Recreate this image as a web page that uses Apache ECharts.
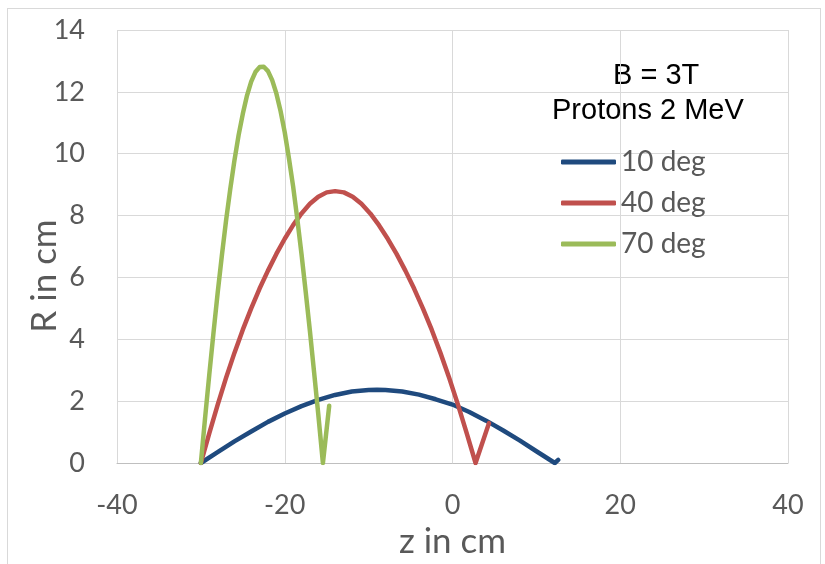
<!DOCTYPE html>
<html>
<head>
<meta charset="utf-8">
<script src="https://cdn.jsdelivr.net/npm/echarts@6/dist/echarts.min.js"></script>
<style>
html,body{margin:0;padding:0;background:#fff;}
#frame{position:absolute;left:7px;top:8px;width:814px;height:600px;border:1px solid #d9d9d9;box-sizing:border-box;}
#chart{position:absolute;left:0;top:0;width:825px;height:564px;}
</style>
</head>
<body>
<div id="frame"></div>
<div id="chart"></div>
<script>
// tick labels / axis ranges
const xTicks = [-40, -20, 0, 20, 40];
const yTicks = [0, 2, 4, 6, 8, 10, 12, 14];
const seriesNames = ['10 deg', '40 deg', '70 deg'];
const titleLines = ['B = 3T', 'Protons 2 MeV'];
const xName = 'z in cm';
const yName = 'R in cm';

// 10 deg
const z10 = [-30, -28, -26, -24, -22, -20, -18, -16, -14, -12, -10, -9, -8, -6, -4, -2, 0, 2, 4, 6, 8, 10, 12.2, 12.6];
const r10 = [0, 0.35, 0.70, 1.02, 1.33, 1.60, 1.84, 2.04, 2.20, 2.31, 2.36, 2.37, 2.36, 2.31, 2.21, 2.06, 1.89, 1.65, 1.37, 1.06, 0.73, 0.38, 0, 0.1];

// 40 deg
const z40 = [-30, -29, -28, -27, -26, -25, -24, -23, -22, -21, -20, -19, -18, -17, -16, -15, -14, -12.95, -11.9, -10.86, -9.81, -8.77, -7.72, -6.67, -5.62, -4.58, -3.53, -2.48, -1.44, -0.39, 0.66, 1.70, 2.75, 4.35];
const r40 = [0, 0.96, 1.88, 2.75, 3.56, 4.31, 5.00, 5.64, 6.22, 6.76, 7.25, 7.69, 8.07, 8.38, 8.61, 8.75, 8.79, 8.75, 8.61, 8.38, 8.07, 7.69, 7.25, 6.76, 6.22, 5.64, 5.00, 4.31, 3.56, 2.75, 1.88, 0.96, 0, 1.29];

// 70 deg
const z70 = [-30, -29.5, -29, -28.5, -28, -27.5, -27, -26.5, -26, -25.5, -25, -24.5, -24, -23.5, -23, -22.5, -22, -21.5, -21, -20.5, -20, -19.5, -19, -18.5, -18, -17.5, -17, -16.5, -16, -15.45, -14.7];
const r70 = [0, 1.45, 2.85, 4.20, 5.50, 6.70, 7.83, 8.85, 9.78, 10.60, 11.29, 11.88, 12.33, 12.64, 12.80, 12.81, 12.67, 12.38, 11.95, 11.38, 10.69, 9.85, 8.94, 7.88, 6.75, 5.53, 4.27, 2.93, 1.57, 0, 1.85];

const colors = ['#1F4A7E', '#C0504D', '#9BBB59'];
const pair = (zs, rs) => zs.map((z, i) => [z, rs[i]]);
const seriesData = [pair(z10, r10), pair(z40, r40), pair(z70, r70)];

const FONT = 'Lato, "Open Sans", sans-serif';
const chart = echarts.init(document.getElementById('chart'), null, {renderer: 'canvas'});
chart.setOption({
  animation: false,
  backgroundColor: 'transparent',
  color: colors,
  grid: {left: 117, right: 37, top: 30, bottom: 100, containLabel: false},
  xAxis: {
    type: 'value', min: xTicks[0], max: xTicks[xTicks.length - 1], interval: 20,
    name: xName, nameLocation: 'middle', nameGap: 61, nameMoveOverlap: false,
    nameTextStyle: {fontFamily: FONT, fontSize: 35, color: '#595959'},
    axisLine: {show: true, onZero: false, lineStyle: {color: '#bfbfbf', width: 1}},
    axisTick: {show: false},
    axisLabel: {fontFamily: FONT, fontSize: 27, color: '#595959', margin: 29},
    splitLine: {show: true, lineStyle: {color: '#d9d9d9', width: 1}}
  },
  yAxis: {
    type: 'value', min: yTicks[0], max: yTicks[yTicks.length - 1], interval: 2,
    axisLine: {show: false},
    axisTick: {show: false},
    axisLabel: {fontFamily: FONT, fontSize: 27, color: '#595959', margin: 32},
    splitLine: {show: true, lineStyle: {color: '#d9d9d9', width: 1}}
  },
  legend: {
    orient: 'vertical', left: 561, top: 148,
    data: seriesNames,
    icon: 'roundRect', itemWidth: 55, itemHeight: 5, itemGap: 13,
    textStyle: {fontFamily: FONT, fontSize: 28, color: '#595959', padding: [0, 0, 0, 0]},
    padding: 0
  },
  graphic: [
    {type: 'text', left: 613, top: 61, style: {text: titleLines[0], font: '29px "Liberation Sans", Arial, sans-serif', fill: '#000'}},
    {type: 'text', left: 552, top: 96, style: {text: titleLines[1], font: '29px "Liberation Sans", Arial, sans-serif', fill: '#000'}},
    {type: 'text', x: 45, y: 276, rotation: Math.PI / 2,
      style: {text: yName, font: '35px Lato, "Open Sans", sans-serif', fill: '#595959', textAlign: 'center', textVerticalAlign: 'middle', align: 'center', verticalAlign: 'middle'}}
  ],
  series: seriesNames.map((n, i) => ({
    name: n, type: 'line', data: seriesData[i], showSymbol: false, symbol: 'none',
    lineStyle: {width: 4.5, color: colors[i], cap: 'round', join: 'round'},
    itemStyle: {color: colors[i]}
  }))
});
</script>
</body>
</html>
